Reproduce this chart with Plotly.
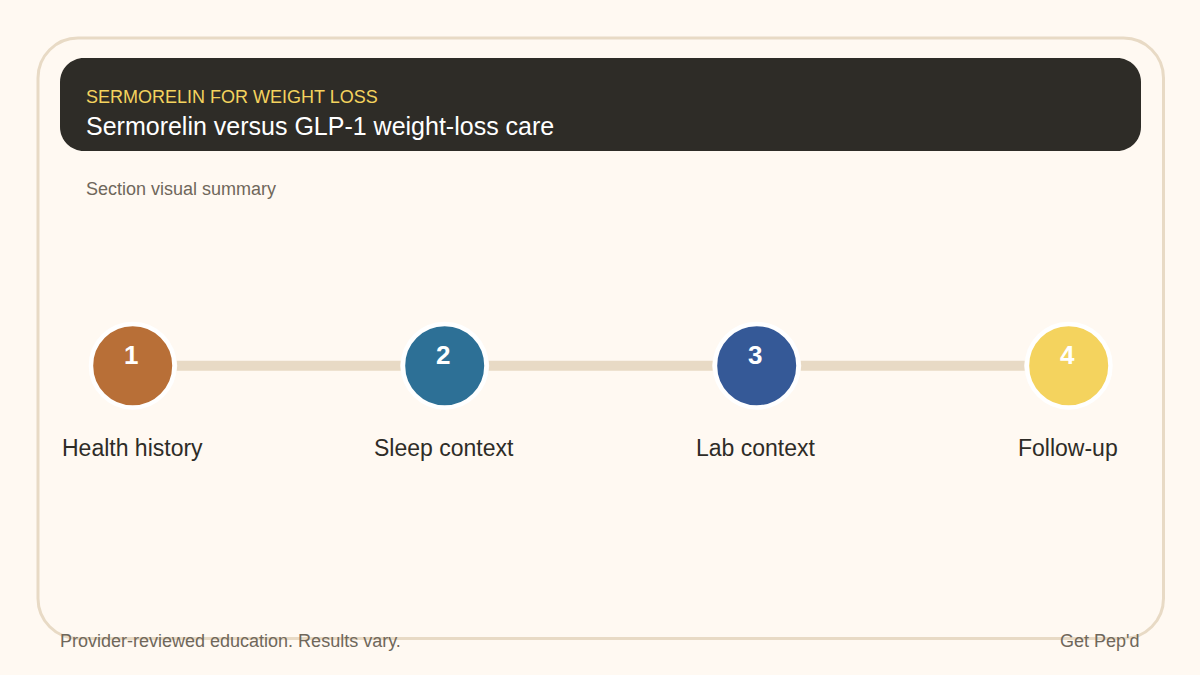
import plotly.graph_objects as go

W, H = 1200, 675
eyebrow = "SERMORELIN FOR WEIGHT LOSS"
title = "Sermorelin versus GLP-1 weight-loss care"
subtitle = "Section visual summary"
footer_left = "Provider-reviewed education. Results vary."
footer_right = "Get Pep'd"
steps = ["Health history", "Sleep context", "Lab context", "Follow-up"]
step_numbers = ["1", "2", "3", "4"]
step_order = [0, 1, 2, 3]
step_colors = ["#B86F37", "#2D7096", "#355997", "#F4D35E"]

BG = "#FFF9F2"
LINE = "#E8DAC5"
DARK = "#2E2C27"
MUTED = "#6F675B"
FONT = "Liberation Sans"

X0, STEP = 132.7, 312.0   # pixel position of first step, pixels per step
YC = 365.7                 # pixel row of the step axis


def px(x):
    return x / W


def py(y):
    return 1 - y / H


def rrect(x0, y0, x1, y1, r):
    k = r * 0.4477
    pts = [
        f"M {px(x0 + r)} {py(y0)}",
        f"L {px(x1 - r)} {py(y0)}",
        f"C {px(x1 - k)} {py(y0)} {px(x1)} {py(y0 + k)} {px(x1)} {py(y0 + r)}",
        f"L {px(x1)} {py(y1 - r)}",
        f"C {px(x1)} {py(y1 - k)} {px(x1 - k)} {py(y1)} {px(x1 - r)} {py(y1)}",
        f"L {px(x0 + r)} {py(y1)}",
        f"C {px(x0 + k)} {py(y1)} {px(x0)} {py(y1 - k)} {px(x0)} {py(y1 - r)}",
        f"L {px(x0)} {py(y0 + r)}",
        f"C {px(x0)} {py(y0 + k)} {px(x0 + k)} {py(y0)} {px(x0 + r)} {py(y0)}",
        "Z",
    ]
    return " ".join(pts)


fig = go.Figure()

# connector running through all steps
fig.add_trace(go.Scatter(
    x=step_order, y=[0] * len(step_order), mode="lines",
    line=dict(color=LINE, width=10), hoverinfo="skip", showlegend=False,
))
# background halo that opens the small gap between connector and rings
fig.add_trace(go.Scatter(
    x=step_order, y=[0] * len(step_order), mode="markers",
    marker=dict(size=89, color=BG, line=dict(width=0)),
    hoverinfo="skip", showlegend=False,
))
# step circles
fig.add_trace(go.Scatter(
    x=step_order, y=[0] * len(step_order), mode="markers",
    marker=dict(size=83.5, color=step_colors, line=dict(color="#FFFFFF", width=4.5)),
    text=steps, hoverinfo="text", showlegend=False,
))

annotations = []


def label(x, y, text, size, color, anchor="left", bold=False, xref="paper", xshift=0):
    annotations.append(dict(
        x=x, y=py(y), xref=xref, yref="paper", text=f"<b>{text}</b>" if bold else text,
        showarrow=False, xanchor=anchor, yanchor="middle", borderpad=0, borderwidth=0,
        xshift=xshift, font=dict(family=FONT, size=size, color=color),
    ))


label(px(86), 96.5, eyebrow, 18, "#F4D35E")
label(px(86), 126, title, 25, "#FFFFFF")
label(px(86), 189, subtitle, 18, MUTED)
label(px(60), 641, footer_left, 18, MUTED)
label(px(1139.5), 641, footer_right, 18, MUTED, anchor="right")

for i, name, num in zip(step_order, steps, step_numbers):
    label(i, 355.3, num, 26, "#FFFFFF", anchor="center", bold=True, xref="x", xshift=-1.7)
    label(i, 448, name, 23, DARK, anchor="center", xref="x", xshift=-0.6)

fig.update_layout(
    width=W, height=H, autosize=False,
    margin=dict(l=0, r=0, t=0, b=0, pad=0),
    paper_bgcolor=BG, plot_bgcolor="rgba(0,0,0,0)",
    xaxis=dict(range=[-X0 / STEP, (W - X0) / STEP], visible=False, fixedrange=True),
    yaxis=dict(range=[-(H - YC), YC], visible=False, fixedrange=True),
    shapes=[
        dict(type="path", xref="paper", yref="paper", layer="below",
             path=rrect(38, 38, 1163.5, 638.5, 40),
             fillcolor=BG, line=dict(color=LINE, width=3)),
        dict(type="path", xref="paper", yref="paper", layer="below",
             path=rrect(60, 58, 1141, 151, 24),
             fillcolor=DARK, line=dict(width=0)),
    ],
    annotations=annotations,
    showlegend=False,
)

fig.write_html(
    "out.html",
    config={"displayModeBar": False},
    post_script="document.documentElement.style.background='#FFF9F2';"
                "document.body.style.margin='0';document.body.style.overflow='hidden';",
)
